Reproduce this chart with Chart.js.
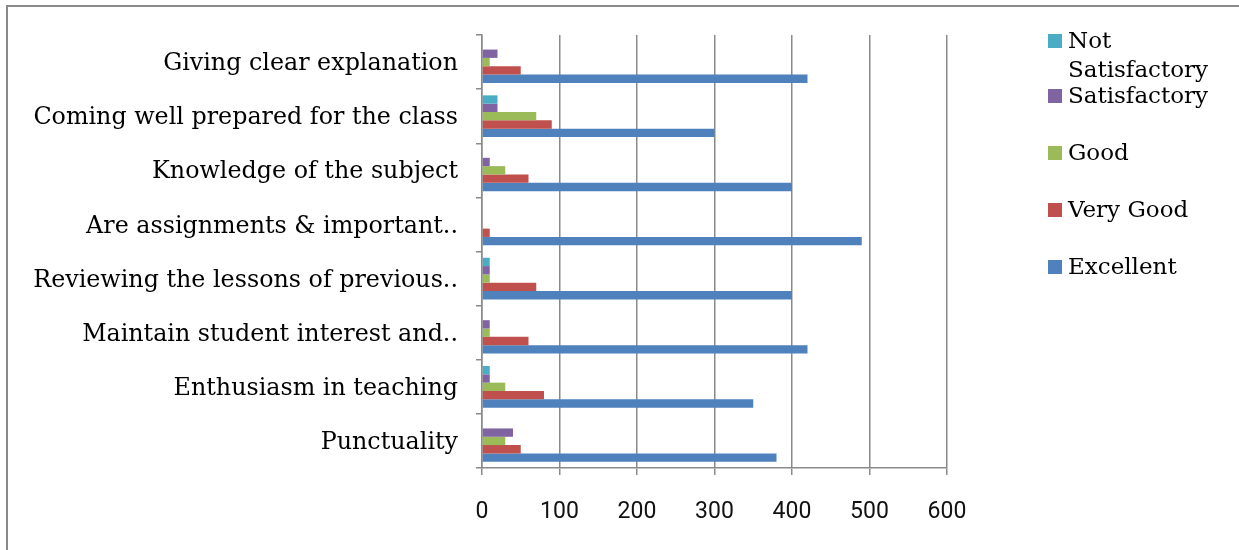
<!DOCTYPE html>
<html>
<head>
<meta charset="utf-8">
<script src="https://cdn.jsdelivr.net/npm/chart.js@4.4.0/dist/chart.umd.min.js"></script>
<style>
  html, body { margin: 0; padding: 0; background: #fff; }
  body { width: 1239px; height: 550px; position: relative; overflow: hidden; }
  #frame { position: absolute; left: 6px; top: 5px; width: 1300px; height: 600px;
           border-top: 2px solid #8a8a8a; border-left: 2px solid #8a8a8a; }
  #c { position: absolute; left: 0; top: 0; }
  #legend { position: absolute; left: 1048px; top: 0; font-family: "DejaVu Serif", serif;
            font-size: 23px; color: #000; }
  .item { position: absolute; left: 0; display: flex; align-items: flex-start; width: 175px; }
  .box { width: 14px; height: 14px; flex: none; margin-top: 8px; margin-right: 6px; }
  .txt { line-height: 29px; white-space: normal; width: 150px; }
</style>
</head>
<body>
<div id="frame"></div>
<canvas id="c" width="1239" height="550"></canvas>
<div id="legend"></div>
<script>
const categories = [
  "Giving clear explanation",
  "Coming well prepared for the class",
  "Knowledge of the subject",
  "Are assignments & important..",
  "Reviewing the lessons of previous..",
  "Maintain student interest and..",
  "Enthusiasm in teaching",
  "Punctuality"
];
const seriesNames = ["Not Satisfactory", "Satisfactory", "Good", "Very Good", "Excellent"];
const notSatisfactory = [0, 20, 0, 0, 10, 0, 10, 0];
const satisfactory    = [20, 20, 10, 0, 10, 10, 10, 40];
const good            = [10, 70, 30, 0, 10, 10, 30, 30];
const veryGood        = [50, 90, 60, 10, 70, 60, 80, 50];
const excellent       = [420, 300, 400, 490, 400, 420, 350, 380];
const xTicks = [0, 100, 200, 300, 400, 500, 600];

const colors = ["#4BACC6", "#8064A2", "#9BBB59", "#C0504D", "#4F81BD"];
const seriesValues = [notSatisfactory, satisfactory, good, veryGood, excellent];

const datasets = seriesNames.map((n, i) => ({
  label: n,
  data: seriesValues[i],
  backgroundColor: colors[i],
  borderWidth: 0,
  barPercentage: 1.0,
  categoryPercentage: 0.77
}));

const GRID = "#8a8a8a";
new Chart(document.getElementById("c"), {
  type: "bar",
  data: { labels: categories, datasets },
  options: {
    indexAxis: "y",
    responsive: false,
    animation: false,
    layout: { padding: { top: 35, right: 292, left: 0, bottom: 0 } },
    plugins: { legend: { display: false }, tooltip: { enabled: false } },
    scales: {
      x: {
        min: 0, max: 600,
        afterBuildTicks: s => { s.ticks = xTicks.map(v => ({ value: v })); },
        afterFit: s => { s.height = 82; },
        grid: { color: GRID, lineWidth: 1.5, tickLength: 7, drawTicks: true },
        border: { display: true, color: GRID, width: 1.5 },
        ticks: { color: "#111", padding: 23, font: { family: "Roboto", size: 23 } }
      },
      y: {
        afterFit: s => { s.width = 482; },
        grid: { display: true, drawOnChartArea: false, drawTicks: true, tickLength: 6, color: GRID, lineWidth: 1.5, offset: true },
        border: { display: true, color: GRID, width: 1.5 },
        ticks: { color: "#000", padding: 18, labelOffset: 2, autoSkip: false, font: { family: "DejaVu Serif", size: 23.8 } }
      }
    }
  }
});

const leg = document.getElementById("legend");
const tops = [26, 81, 138, 195, 252];
seriesNames.forEach((n, i) => {
  const it = document.createElement("div");
  it.className = "item";
  it.style.top = tops[i] + "px";
  it.innerHTML = '<div class="box" style="background:' + colors[i] + '"></div><div class="txt">' + n + '</div>';
  leg.appendChild(it);
});
</script>
</body>
</html>
